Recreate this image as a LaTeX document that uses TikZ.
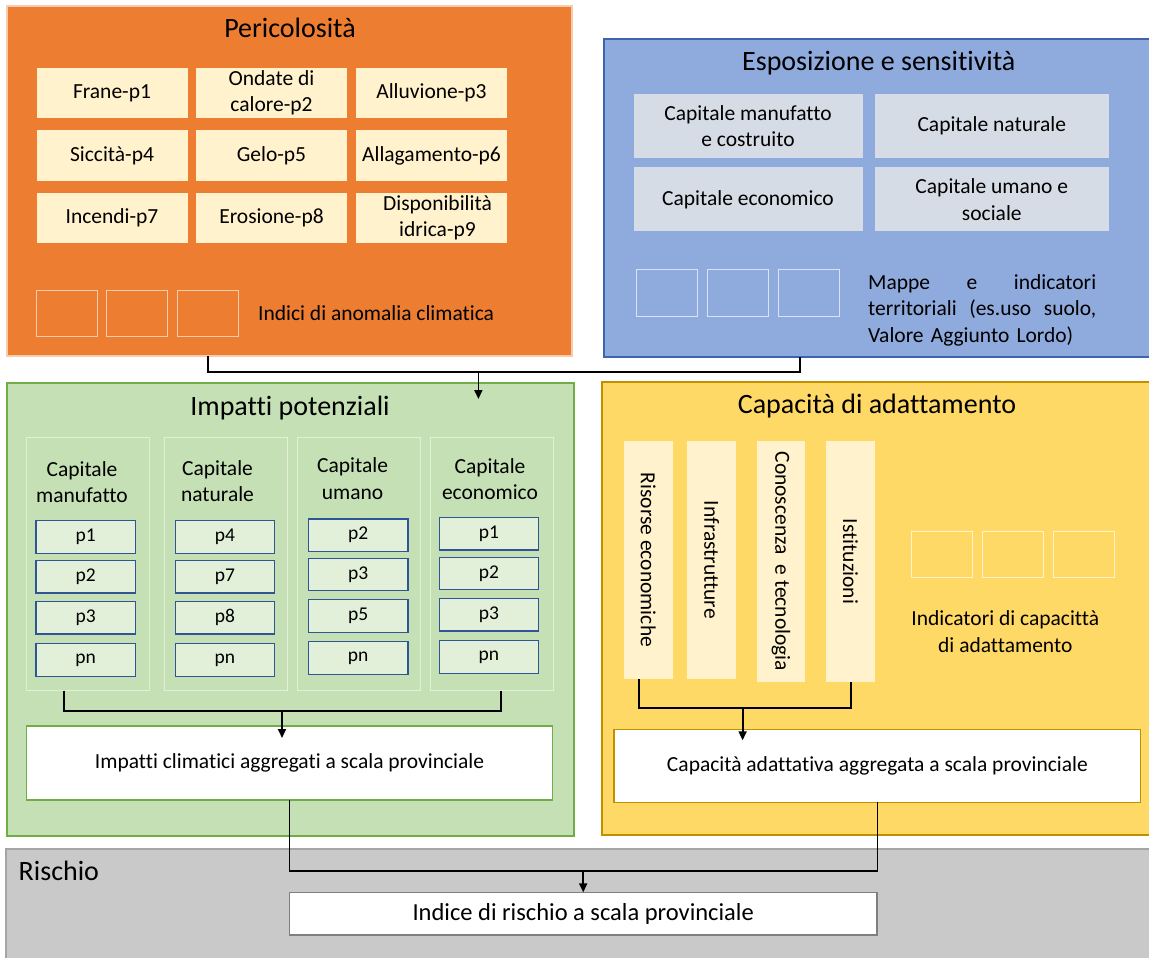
\documentclass[tikz,border=0pt]{standalone}
\usepackage{fontspec}
\setmainfont{Carlito}[RawFeature={-liga}]
\usetikzlibrary{arrows.meta}
\definecolor{orF}{HTML}{ED7D31}
\definecolor{orD}{HTML}{F8CBAD}
\definecolor{paleY}{HTML}{FFF2CC}
\definecolor{blF}{HTML}{8FAADC}
\definecolor{blD}{HTML}{3E64AE}
\definecolor{blBox}{HTML}{D6DCE5}
\definecolor{blSq}{HTML}{DAE3F3}
\definecolor{grF}{HTML}{C5E0B4}
\definecolor{grD}{HTML}{70AD47}
\definecolor{grP}{HTML}{E2F0D9}
\definecolor{pB}{HTML}{2F5597}
\definecolor{yeF}{HTML}{FFD966}
\definecolor{yeD}{HTML}{BF9000}
\definecolor{gyF}{HTML}{C9C9C9}
\definecolor{gyD}{HTML}{A5A5A5}
\definecolor{gyB}{HTML}{7F7F7F}
\begin{document}
\begin{tikzpicture}[x=1pt,y=-1pt,
  box/.style={draw, inner sep=0pt, outer sep=0pt, line width=1.2pt},
  ttl/.style={font=\fontsize{28}{32}\selectfont, anchor=base, inner sep=0pt},
  txt/.style={font=\fontsize{21.5}{26.5}\selectfont, align=center, inner sep=0pt},
  pale/.style={box, draw=none, fill=paleY, minimum width=151pt, minimum height=50.6pt, font=\fontsize{21.5}{26.5}\selectfont, align=center},
  sqO/.style={box, draw=orD, line width=1pt, minimum width=61pt, minimum height=46pt},
  sqB/.style={box, draw=blSq, line width=1pt, minimum width=61.4pt, minimum height=46.7pt},
  sqY/.style={box, draw=paleY, line width=1pt, minimum width=61pt, minimum height=46pt},
  gbox/.style={box, draw=none, fill=blBox, minimum height=64pt, font=\fontsize{21.5}{26.5}\selectfont, align=center},
  colp/.style={box, draw=grP, line width=1pt, minimum width=123pt, minimum height=253pt},
  pbx/.style={box, draw=pB, fill=grP, minimum width=99.5pt, minimum height=32.6pt, font=\fontsize{19.5}{22}\selectfont},
  bar/.style={box, draw=none, fill=paleY},
  bartxt/.style={txt, rotate=-90},
  agg/.style={box, fill=white, font=\fontsize{21.5}{26.5}\selectfont},
  conn/.style={line width=1.8pt, black},
  arr/.style={conn, -{Triangle[width=8pt,length=9pt]}}
]
\useasboundingbox (0,0) rectangle (1149,958);
\clip (0,0) rectangle (1149,958);
\fill[white] (0,0) rectangle (1149,958);

% ---------- big panels ----------
\node[box, fill=orF, draw=orD, minimum width=565pt, minimum height=350pt] (per) at (289.5,181) {};
\node[box, fill=blF, draw=blD, minimum width=551pt, minimum height=318pt] (esp) at (879.5,198) {};
\node[box, fill=grF, draw=grD, minimum width=567pt, minimum height=453pt] (imp) at (290.5,609.5) {};
\node[box, fill=yeF, draw=yeD, minimum width=553pt, minimum height=453pt] (cap) at (878.5,608.5) {};
\node[box, fill=gyF, draw=gyD, minimum width=1149pt, minimum height=116pt] (ris) at (580.5,907) {};

% ---------- titles ----------
\node[ttl] (tper) at (290,37.5) {Pericolosità};
\node[ttl] (tesp) at (878.8,70.7) {Esposizione e sensitività};
\node[ttl] (timp) at (290,415) {Impatti potenziali};
\node[ttl] (tcap) at (877,413.3) {Capacità di adattamento};
\node[ttl, anchor=base west] (tris) at (18.5,880.7) {Rischio};

% ---------- Pericolosita ----------
\node[pale] (h1) at (112,93) {Frane-p1};
\node[pale] (h2) at (271.5,93) {Ondate di\\calore-p2};
\node[pale] (h3) at (431.5,93) {Alluvione-p3};
\node[pale] (h4) at (112,155.5) {Siccità-p4};
\node[pale] (h5) at (271.5,155.5) {Gelo-p5};
\node[pale] (h6) at (431.5,155.5) {Allagamento-p6};
\node[pale] (h7) at (112,218) {Incendi-p7};
\node[pale] (h8) at (271.5,218) {Erosione-p8};
\node[pale] (h9) at (431.5,218) {\hspace*{12pt}Disponibilità\\\hspace*{12pt}idrica-p9};
\node[sqO] (so1) at (66.5,313) {};
\node[sqO] (so2) at (137,313) {};
\node[sqO] (so3) at (208,313) {};
\node[txt, anchor=west] (ind) at (258,313) {Indici di anomalia climatica};

% ---------- Esposizione ----------
\node[gbox, minimum width=229pt] (e1) at (748,126) {Capitale manufatto\\e costruito};
\node[gbox, minimum width=234pt] (e2) at (991.8,126) {Capitale naturale};
\node[gbox, minimum width=229pt] (e3) at (748,199.4) {Capitale economico};
\node[gbox, minimum width=234pt] (e4) at (991.8,199.4) {Capitale umano e\\sociale};
\node[sqB] (sb1) at (667,293.3) {};
\node[sqB] (sb2) at (737.8,293.3) {};
\node[sqB] (sb3) at (808.9,293.3) {};
\node[txt, anchor=west, text width=228pt, align=left] (map) at (868,310)
  {\makebox[228pt][l]{Mappe\hfill e\hfill indicatori}\\\makebox[228pt][l]{territoriali\hfill (es.uso\hfill suolo,}\\Valore Aggiunto Lordo)};

% ---------- Impatti potenziali ----------
\node[colp] (c1) at (88.2,564.2) {};
\node[colp] (c2) at (225.8,564.2) {};
\node[colp] (c3) at (358.9,564.2) {};
\node[colp] (c4) at (491.8,564.2) {};
\node[txt] (hc1) at (82,482) {Capitale\\manufatto};
\node[txt] (hc2) at (217.5,481) {Capitale\\naturale};
\node[txt] (hc3) at (352.6,478.4) {Capitale\\umano};
\node[txt] (hc4) at (490,479) {Capitale\\economico};

\node[pbx] (a1) at (85.7,537) {p1};
\node[pbx] (a2) at (85.7,576.7) {p2};
\node[pbx] (a3) at (85.7,617.7) {p3};
\node[pbx] (a4) at (85.7,660) {pn};
\node[pbx] (b1) at (224.9,537) {p4};
\node[pbx] (b2) at (224.9,576.7) {p7};
\node[pbx] (b3) at (224.9,617.7) {p8};
\node[pbx] (b4) at (224.9,660) {pn};
\node[pbx] (d1) at (358.2,535.2) {p2};
\node[pbx] (d2) at (358.2,574.4) {p3};
\node[pbx] (d3) at (358.2,616) {p5};
\node[pbx] (d4) at (358.2,658) {pn};
\node[pbx] (f1) at (488.9,533.7) {p1};
\node[pbx] (f2) at (488.9,573.5) {p2};
\node[pbx] (f3) at (488.9,614.7) {p3};
\node[pbx] (f4) at (488.9,656.9) {pn};

\node[agg, draw=grD, minimum width=525.8pt, minimum height=74pt] (impAgg) at (289.5,763) {Impatti climatici aggregati a scala provinciale};

% ---------- Capacita di adattamento ----------
\node[bar, minimum width=48.8pt, minimum height=237.7pt] (r1) at (648.3,559.9) {};
\node[bar, minimum width=49.2pt, minimum height=237.7pt] (r2) at (711.6,559.9) {};
\node[bar, minimum width=48.8pt, minimum height=240.7pt] (r3) at (780.9,561.4) {};
\node[bar, minimum width=48.1pt, minimum height=240.7pt] (r4) at (850.5,561.4) {};
\node[bartxt] (rt1) at (r1.center) {Risorse economiche};
\node[bartxt] (rt2) at (r2.center) {Infrastrutture};
\node[bartxt] (rt3) at (r3.center) {Conoscenza\ \ e tecnologia};
\node[bartxt] (rt4) at (r4.center) {Istituzioni};
\node[sqY] (sy1) at (941.7,554) {};
\node[sqY] (sy2) at (1012.8,554) {};
\node[sqY] (sy3) at (1084,554) {};
\node[txt] (indc) at (1005.3,631.7) {Indicatori di capacittà\\di adattamento};

\node[agg, draw=yeD, minimum width=526.9pt, minimum height=73pt] (capAgg) at (877.4,765.8) {Capacità adattativa aggregata a scala provinciale};

% ---------- Rischio ----------
\node[agg, draw=gyB, minimum width=587.6pt, minimum height=42.7pt, font=\fontsize{24.5}{28}\selectfont] (risIdx) at (583.2,913.7) {Indice di rischio a scala provinciale};

% ---------- connectors ----------
\coordinate (j1) at (208,372);
\coordinate (j2) at (800.3,372);
\coordinate (j3) at (478.4,372);
\draw[conn] (per.south -| j1) -- (j1) -- (j2) -- (esp.south -| j2);
\draw[arr] (j3) -- ([yshift=-16pt]imp.north -| j3);

\coordinate (k1) at (63.6,710.7);
\coordinate (k2) at (501.3,710.7);
\coordinate (k3) at (282,710.7);
\draw[conn] (c1.south -| k1) -- (k1) -- (k2) -- (c4.south -| k2);
\draw[arr] (k3) -- ([yshift=-12pt]impAgg.north -| k3);

\coordinate (m1) at (638.8,708.3);
\coordinate (m2) at (851,708.3);
\coordinate (m3) at (742.6,708.3);
\draw[conn] (r1.south -| m1) -- (m1) -- (m2) -- (r4.south -| m2);
\draw[arr] (m3) -- ([yshift=-11pt]capAgg.north -| m3);

\coordinate (n1) at (impAgg.south |- 0,871);
\coordinate (n2) at (capAgg.south |- 0,871);
\coordinate (n3) at (583.2,871);
\draw[conn] (impAgg.south) -- (n1) -- (n2) -- (capAgg.south);
\draw[arr] (n3) -- (risIdx.north);
\end{tikzpicture}
\end{document}
